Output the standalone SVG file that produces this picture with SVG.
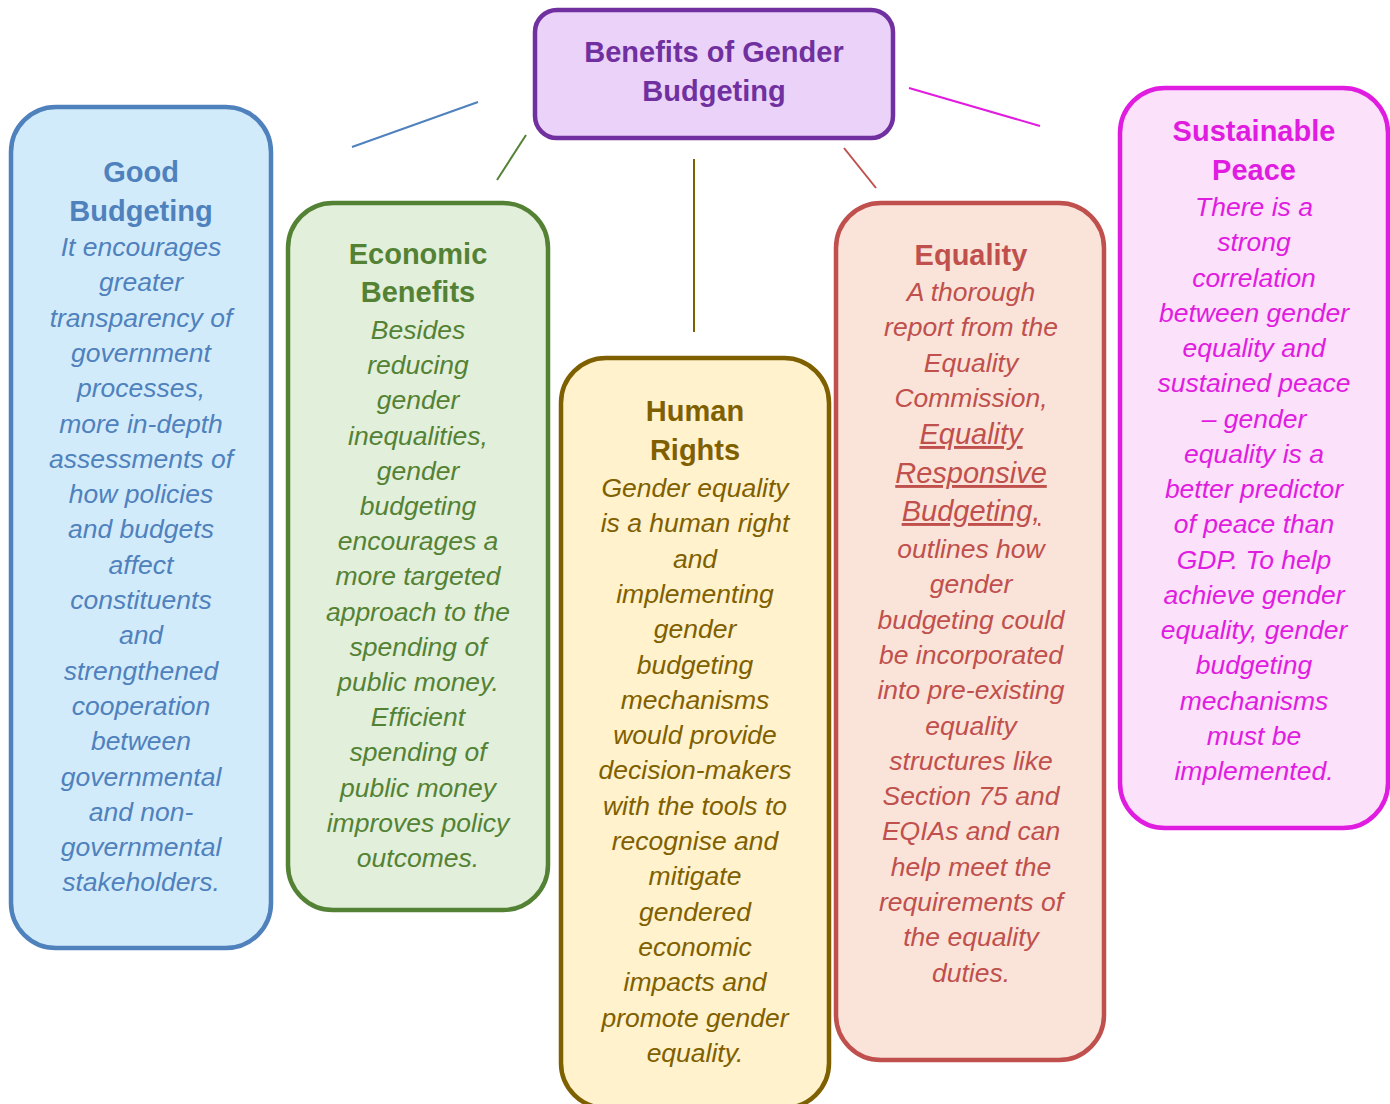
<svg xmlns="http://www.w3.org/2000/svg" width="1390" height="1104" viewBox="0 0 1390 1104">
<style>
text{font-family:"Liberation Sans",Arial,sans-serif;text-anchor:middle}
.h{font-weight:bold;font-size:29px}
.b{font-style:italic;font-size:26.5px}
.u{font-style:italic;font-size:29px;text-decoration:underline}
.box{stroke-width:4.5}
.c{stroke-width:2;fill:none}
</style>
<rect width="1390" height="1104" fill="#ffffff"/>
<g id="connectors">
<line class="c" x1="352" y1="147" x2="478" y2="102" stroke="#4F81BD"/>
<line class="c" x1="497" y1="180" x2="526" y2="135" stroke="#548235"/>
<line class="c" x1="694" y1="159" x2="694" y2="332" stroke="#7F6000"/>
<line class="c" x1="844" y1="148" x2="876" y2="188" stroke="#C0504D"/>
<line class="c" x1="909" y1="88" x2="1040" y2="126" stroke="#E01CE0"/>
</g>
<g id="root">
<rect class="box" x="535" y="10" width="358" height="128" rx="22" fill="#EBD2F8" stroke="#7030A0"/>
<text class="h" fill="#7030A0"><tspan x="714" y="62">Benefits of Gender</tspan><tspan x="714" y="101">Budgeting</tspan></text>
</g>
<g id="good-budgeting">
<rect class="box" x="11" y="107" width="260" height="841" rx="45" fill="#D2EBFA" stroke="#4F81BD"/>
<text class="h" fill="#4F81BD"><tspan x="141" y="182">Good</tspan><tspan x="141" y="221">Budgeting</tspan></text>
<text class="b" fill="#4F81BD"><tspan x="141" y="256">It encourages</tspan><tspan x="141" y="291.3">greater</tspan><tspan x="141" y="326.6">transparency of</tspan><tspan x="141" y="361.9">government</tspan><tspan x="141" y="397.2">processes,</tspan><tspan x="141" y="432.5">more in-depth</tspan><tspan x="141" y="467.8">assessments of</tspan><tspan x="141" y="503.1">how policies</tspan><tspan x="141" y="538.4">and budgets</tspan><tspan x="141" y="573.7">affect</tspan><tspan x="141" y="609">constituents</tspan><tspan x="141" y="644.3">and</tspan><tspan x="141" y="679.6">strengthened</tspan><tspan x="141" y="714.9">cooperation</tspan><tspan x="141" y="750.2">between</tspan><tspan x="141" y="785.5">governmental</tspan><tspan x="141" y="820.8">and non-</tspan><tspan x="141" y="856.1">governmental</tspan><tspan x="141" y="891.4">stakeholders.</tspan></text>
</g>
<g id="economic-benefits">
<rect class="box" x="288" y="203" width="260" height="707" rx="45" fill="#E2EFDA" stroke="#548235"/>
<text class="h" fill="#548235"><tspan x="418" y="264">Economic</tspan><tspan x="418" y="302">Benefits</tspan></text>
<text class="b" fill="#548235"><tspan x="418" y="339">Besides</tspan><tspan x="418" y="374.2">reducing</tspan><tspan x="418" y="409.4">gender</tspan><tspan x="418" y="444.6">inequalities,</tspan><tspan x="418" y="479.8">gender</tspan><tspan x="418" y="515">budgeting</tspan><tspan x="418" y="550.2">encourages a</tspan><tspan x="418" y="585.4">more targeted</tspan><tspan x="418" y="620.6">approach to the</tspan><tspan x="418" y="655.8">spending of</tspan><tspan x="418" y="691">public money.</tspan><tspan x="418" y="726.2">Efficient</tspan><tspan x="418" y="761.4">spending of</tspan><tspan x="418" y="796.6">public money</tspan><tspan x="418" y="831.8">improves policy</tspan><tspan x="418" y="867">outcomes.</tspan></text>
</g>
<g id="human-rights">
<rect class="box" x="561" y="358" width="268" height="750" rx="45" fill="#FFF2CC" stroke="#7F6000"/>
<text class="h" fill="#7F6000"><tspan x="695" y="421">Human</tspan><tspan x="695" y="460">Rights</tspan></text>
<text class="b" fill="#7F6000"><tspan x="695" y="497">Gender equality</tspan><tspan x="695" y="532.3">is a human right</tspan><tspan x="695" y="567.6">and</tspan><tspan x="695" y="602.9">implementing</tspan><tspan x="695" y="638.2">gender</tspan><tspan x="695" y="673.5">budgeting</tspan><tspan x="695" y="708.8">mechanisms</tspan><tspan x="695" y="744.1">would provide</tspan><tspan x="695" y="779.4">decision-makers</tspan><tspan x="695" y="814.7">with the tools to</tspan><tspan x="695" y="850">recognise and</tspan><tspan x="695" y="885.3">mitigate</tspan><tspan x="695" y="920.6">gendered</tspan><tspan x="695" y="955.9">economic</tspan><tspan x="695" y="991.2">impacts and</tspan><tspan x="695" y="1026.5">promote gender</tspan><tspan x="695" y="1061.8">equality.</tspan></text>
</g>
<g id="equality">
<rect class="box" x="836" y="203" width="268" height="857" rx="45" fill="#FAE3D8" stroke="#C0504D"/>
<text class="h" fill="#C0504D"><tspan x="971" y="265">Equality</tspan></text>
<text class="b" fill="#C0504D"><tspan x="971" y="301">A thorough</tspan><tspan x="971" y="336">report from the</tspan><tspan x="971" y="372">Equality</tspan><tspan x="971" y="407">Commission,</tspan></text>
<text class="u" fill="#C0504D"><tspan x="971" y="444">Equality</tspan><tspan x="971" y="483">Responsive</tspan><tspan x="971" y="521">Budgeting,</tspan></text>
<text class="b" fill="#C0504D"><tspan x="971" y="558">outlines how</tspan><tspan x="971" y="593.3">gender</tspan><tspan x="971" y="628.6">budgeting could</tspan><tspan x="971" y="663.9">be incorporated</tspan><tspan x="971" y="699.2">into pre-existing</tspan><tspan x="971" y="734.5">equality</tspan><tspan x="971" y="769.8">structures like</tspan><tspan x="971" y="805.1">Section 75 and</tspan><tspan x="971" y="840.4">EQIAs and can</tspan><tspan x="971" y="875.7">help meet the</tspan><tspan x="971" y="911">requirements of</tspan><tspan x="971" y="946.3">the equality</tspan><tspan x="971" y="981.6">duties.</tspan></text>
</g>
<g id="sustainable-peace">
<rect class="box" x="1120" y="88" width="268" height="740" rx="45" fill="#FCE1FB" stroke="#E01CE0"/>
<text class="h" fill="#E01CE0"><tspan x="1254" y="141">Sustainable</tspan><tspan x="1254" y="180">Peace</tspan></text>
<text class="b" fill="#E01CE0"><tspan x="1254" y="216">There is a</tspan><tspan x="1254" y="251.25">strong</tspan><tspan x="1254" y="286.5">correlation</tspan><tspan x="1254" y="321.75">between gender</tspan><tspan x="1254" y="357">equality and</tspan><tspan x="1254" y="392.25">sustained peace</tspan><tspan x="1254" y="427.5">– gender</tspan><tspan x="1254" y="462.75">equality is a</tspan><tspan x="1254" y="498">better predictor</tspan><tspan x="1254" y="533.25">of peace than</tspan><tspan x="1254" y="568.5">GDP. To help</tspan><tspan x="1254" y="603.75">achieve gender</tspan><tspan x="1254" y="639">equality, gender</tspan><tspan x="1254" y="674.25">budgeting</tspan><tspan x="1254" y="709.5">mechanisms</tspan><tspan x="1254" y="744.75">must be</tspan><tspan x="1254" y="780">implemented.</tspan></text>
</g>
</svg>
